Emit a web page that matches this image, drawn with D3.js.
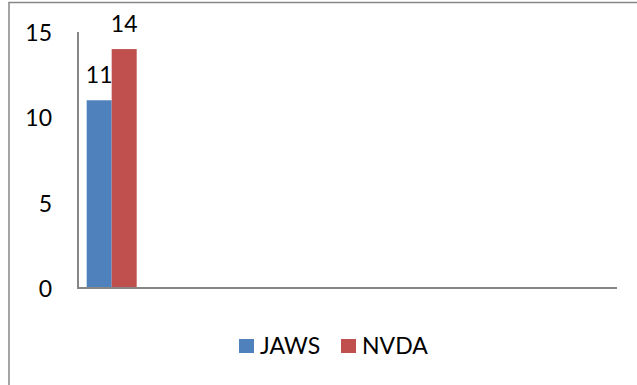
<!DOCTYPE html>
<html>
<head>
<meta charset="utf-8">
<script src="https://cdn.jsdelivr.net/npm/d3@7"></script>
<style>
  body { margin: 0; background: #fff; }
  svg { display: block; font-family: Lato, "Open Sans", sans-serif; }
</style>
</head>
<body>
<svg id="chart" width="637" height="385"></svg>
<script>
var categories = ["c1", "c2", "c3", "c4", "c5", "c6", "c7", "c8"];
var seriesNames = ["JAWS", "NVDA"];
var jaws = [11];
var nvda = [14];
var yTicks = [0, 5, 10, 15];
var colors = ["#4F81BD", "#C0504D"];

var svg = d3.select("#chart");
var plotLeft = 78, plotRight = 617, plotTop = 32, plotBottom = 288;
var fontSize = 23;

// outer chart frame (cropped on right and bottom)
svg.append("rect")
  .attr("x", 9)
  .attr("y", 2.5)
  .attr("width", 700)
  .attr("height", 500)
  .attr("fill", "none")
  .attr("stroke", "#868686")
  .attr("stroke-width", 1.5);

var yScale = d3.scaleLinear()
  .domain([0, 15])
  .range([plotBottom, plotTop]);

var xScale = d3.scaleBand()
  .domain(categories)
  .range([plotLeft, plotRight])
  .paddingInner(0)
  .paddingOuter(0);

var groupWidth = 50;
var inner = d3.scaleBand()
  .domain(seriesNames)
  .range([0, groupWidth]);

var series = [jaws, nvda];

// y tick labels
svg.append("g")
  .selectAll("text")
  .data(yTicks)
  .enter()
  .append("text")
  .attr("x", 52)
  .attr("y", function(d){ return yScale(d); })
  .attr("text-anchor", "end")
  .attr("dominant-baseline", "central")
  .attr("font-size", fontSize)
  .attr("fill", "#000")
  .text(function(d){ return d; });

// bars
series.forEach(function(vals, s){
  var g = svg.append("g");
  g.selectAll("rect")
    .data(vals)
    .enter()
    .append("rect")
    .attr("x", function(d, i){
      return xScale(categories[i]) + (xScale.bandwidth() - groupWidth)/2 + inner(seriesNames[s]);
    })
    .attr("y", function(d){ return yScale(d); })
    .attr("width", inner.bandwidth())
    .attr("height", function(d){ return yScale(0) - yScale(d); })
    .attr("fill", colors[s]);

  g.selectAll("text")
    .data(vals)
    .enter()
    .append("text")
    .attr("x", function(d, i){
      return xScale(categories[i]) + (xScale.bandwidth() - groupWidth)/2 + inner(seriesNames[s]) + inner.bandwidth()/2;
    })
    .attr("y", function(d){ return yScale(d) - 17; })
    .attr("text-anchor", "middle")
    .attr("font-size", fontSize)
    .attr("fill", "#000")
    .text(function(d){ return d; });
});

// axis lines
svg.append("line")
  .attr("x1", plotLeft).attr("x2", plotLeft)
  .attr("y1", plotTop).attr("y2", plotBottom)
  .attr("stroke", "#868686")
  .attr("stroke-width", 2);

svg.append("line")
  .attr("x1", plotLeft - 1).attr("x2", plotRight)
  .attr("y1", plotBottom).attr("y2", plotBottom)
  .attr("stroke", "#868686")
  .attr("stroke-width", 2);

// legend
var legendX = [239, 341];
var legend = svg.append("g");
seriesNames.forEach(function(name, i){
  legend.append("rect")
    .attr("x", legendX[i])
    .attr("y", 339)
    .attr("width", 15)
    .attr("height", 14)
    .attr("fill", colors[i]);
  legend.append("text")
    .attr("x", legendX[i] + 21)
    .attr("y", 354)
    .attr("font-size", fontSize)
    .attr("fill", "#000")
    .text(name);
});
</script>
</body>
</html>
